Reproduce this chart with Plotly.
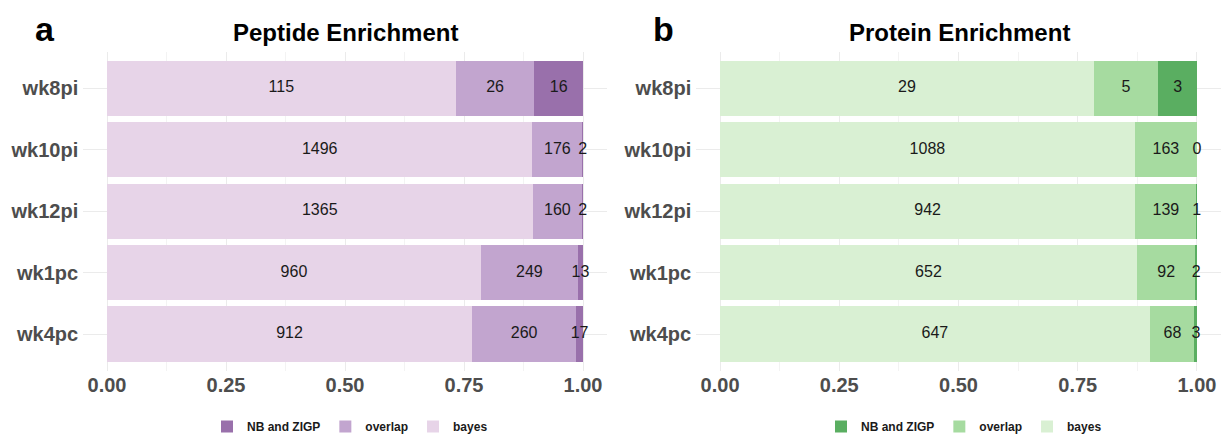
import numpy as np
import plotly.graph_objects as go

# ---------------- data ----------------
samples = ["wk8pi", "wk10pi", "wk12pi", "wk1pc", "wk4pc"]
series_names = ["bayes", "overlap", "NB and ZIGP"]

pep_bayes = [115, 1496, 1365, 960, 912]
pep_overlap = [26, 176, 160, 249, 260]
pep_nb = [16, 2, 2, 13, 17]

prot_bayes = [29, 1088, 942, 652, 647]
prot_overlap = [5, 163, 139, 92, 68]
prot_nb = [3, 0, 1, 2, 3]

x_tick_vals = [0.0, 0.25, 0.5, 0.75, 1.0]
x_tick_labels = ["0.00", "0.25", "0.50", "0.75", "1.00"]

panel_titles = ["Peptide Enrichment", "Protein Enrichment"]
panel_letters = ["a", "b"]

purple = ["#E7D4E8", "#C2A5CF", "#9970AB"]
green = ["#D9F0D3", "#A6DBA0", "#5AAE61"]

# ---------------- figure ----------------
W, H = 1226, 441
FONT = "Liberation Sans, Arial, Helvetica, sans-serif"

fig = go.Figure()


def add_panel(series, colors, xa, ya, legend_id):
    arr = np.array(series, dtype=float)  # shape (3, n)
    totals = arr.sum(axis=0)
    cum = np.cumsum(arr, axis=0)
    for i, name in enumerate(series_names):
        fig.add_trace(go.Bar(
            y=samples, x=series[i], name=name, orientation="h",
            marker=dict(color=colors[i], line=dict(width=0)),
            xaxis=xa, yaxis=ya, legend=legend_id, hoverinfo="skip",
        ))
    for i, name in enumerate(series_names):
        mid = (cum[i] - arr[i] / 2.0) / totals
        fig.add_trace(go.Scatter(
            y=samples, x=mid, mode="text", text=[str(v) for v in series[i]],
            textfont=dict(size=16, color="#1a1a1a", family=FONT),
            textposition="middle center",
            xaxis=xa, yaxis=ya, showlegend=False, hoverinfo="skip",
        ))


add_panel([pep_bayes, pep_overlap, pep_nb], purple, "x", "y", "legend")
add_panel([prot_bayes, prot_overlap, prot_nb], green, "x2", "y2", "legend2")

# plot area geometry (pixels)
left_dom = [83.2 / W, 606.8 / W]
right_dom = [696.2 / W, 1220.8 / W]
ydom = [1 - 377.7 / H, 1 - 52.5 / H]

common_x = dict(
    range=[-0.05, 1.05], tickvals=x_tick_vals, ticktext=x_tick_labels,
    showgrid=True, gridcolor="#EBEBEB", gridwidth=1,
    minor=dict(tickvals=[0.125, 0.375, 0.625, 0.875], showgrid=True,
               gridcolor="#F3F3F3", gridwidth=1),
    zeroline=False, showline=False, ticks="",
    tickfont=dict(size=20, color="#4D4D4D", family=FONT, weight="bold"),
    automargin=False, fixedrange=True,
)
common_y = dict(
    type="category", categoryorder="array", categoryarray=samples[::-1],
    range=[-0.6, 4.6], domain=ydom,
    showgrid=True, gridcolor="#EBEBEB", gridwidth=1,
    zeroline=False, showline=False, ticks="", ticklabelstandoff=4,
    tickfont=dict(size=20, color="#4D4D4D", family=FONT, weight="bold"),
    automargin=False, fixedrange=True,
)

legend_common = dict(
    orientation="h", xanchor="center", yanchor="top", y=1 - 420 / H,
    traceorder="reversed", bgcolor="rgba(0,0,0,0)",
    font=dict(size=12, color="#1a1a1a", family=FONT, weight="bold"),
    itemclick=False, itemdoubleclick=False,
)

fig.update_layout(
    width=W, height=H, autosize=False,
    margin=dict(l=0, r=0, t=0, b=0),
    paper_bgcolor="white", plot_bgcolor="white",
    barmode="stack", barnorm="fraction", bargap=0.1,
    xaxis=dict(domain=left_dom, anchor="y", **common_x),
    yaxis=dict(anchor="x", **common_y),
    xaxis2=dict(domain=right_dom, anchor="y2", **common_x),
    yaxis2=dict(anchor="x2", **common_y),
    legend=dict(x=350 / W, **legend_common),
    legend2=dict(x=964 / W, **legend_common),
    font=dict(family=FONT),
    annotations=[
        dict(text=panel_titles[0], x=345 / W, y=1 - 33 / H, xref="paper", yref="paper",
             showarrow=False, xanchor="center", yanchor="middle",
             font=dict(size=24, color="black", family=FONT, weight="bold")),
        dict(text=panel_titles[1], x=959 / W, y=1 - 33 / H, xref="paper", yref="paper",
             showarrow=False, xanchor="center", yanchor="middle",
             font=dict(size=24, color="black", family=FONT, weight="bold")),
        dict(text=panel_letters[0], x=45 / W, y=1 - 30 / H, xref="paper", yref="paper",
             showarrow=False, xanchor="center", yanchor="middle",
             font=dict(size=34, color="black", family=FONT, weight="bold")),
        dict(text=panel_letters[1], x=663 / W, y=1 - 30 / H, xref="paper", yref="paper",
             showarrow=False, xanchor="center", yanchor="middle",
             font=dict(size=34, color="black", family=FONT, weight="bold")),
    ],
)

post = (
    "var s='margin:0;padding:0;overflow:hidden;width:1226px;height:441px;';"
    "document.documentElement.style.cssText=s;"
    "document.body.style.cssText=s;"
)

fig.write_html("out.html", config={"displayModeBar": False}, post_script=post)
